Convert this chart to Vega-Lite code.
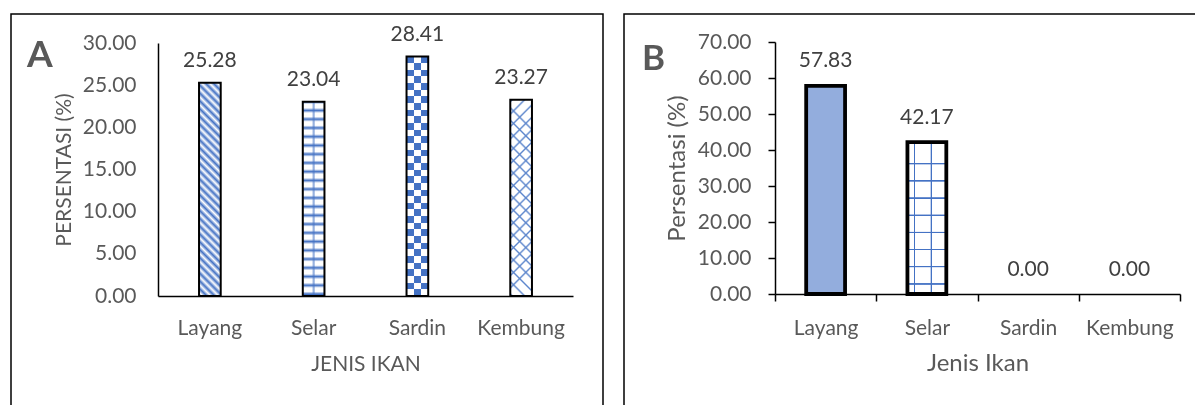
{
  "$schema": "https://vega.github.io/schema/vega-lite/v6.json",
  "background": "white",
  "padding": {"left": 10, "top": 13, "right": 0, "bottom": 0},
  "spacing": 19,
  "datasets": {
    "a": [
      {"fish": "Layang", "value": 25.28},
      {"fish": "Selar", "value": 23.04},
      {"fish": "Sardin", "value": 28.41},
      {"fish": "Kembung", "value": 23.27}
    ],
    "b": [
      {"fish": "Layang", "value": 57.83},
      {"fish": "Selar", "value": 42.17},
      {"fish": "Sardin", "value": 0},
      {"fish": "Kembung", "value": 0}
    ]
  },
  "config": {
    "view": {"stroke": "#000", "strokeWidth": 1.5},
    "font": "Lato",
    "axis": {"labelFont": "Lato", "titleFont": "Lato", "labelColor": "#595959", "titleColor": "#595959", "titleFontWeight": "normal", "domainColor": "#000", "tickColor": "#000", "grid": false},
    "title": {"font": "Lato"}
  },
  "hconcat": [
    {
      "width": 592,
      "height": 400,
      "data": {"name": "a"},
      "title": {"text": "A", "anchor": "start", "frame": "group", "fontSize": 37, "fontWeight": "bold", "color": "#595959", "baseline": "alphabetic", "offset": -90, "dx": 16},
      "encoding": {
        "x": {"field": "fish", "type": "nominal", "sort": null,
          "scale": {"domain": ["Layang", "Selar", "Sardin", "Kembung"], "range": [147, 562], "paddingInner": 0, "paddingOuter": 0},
          "axis": {"title": "JENIS IKAN", "orient": "bottom", "offset": -118, "labelAngle": 0, "ticks": false, "tickSize": 0, "domainWidth": 1.5, "labelPadding": 21, "labelFontSize": 21, "titleFontSize": 21, "titlePadding": 15}},
        "y": {"field": "value", "type": "quantitative",
          "scale": {"domain": [0, 30], "range": [282, 29], "nice": false, "zero": true},
          "axis": {"title": "PERSENTASI (%)", "values": [0, 5, 10, 15, 20, 25, 30], "format": ".2f", "offset": -147, "ticks": false, "tickSize": 0, "domainWidth": 1.5, "labelPadding": 22, "labelFontSize": 21, "titleFontSize": 21, "titlePadding": 8}}
      },
      "layer": [
        {
          "mark": {"type": "bar", "width": {"band": 0.209}},
          "encoding": {
            "fill": {
              "condition": [
                {"test": "datum.fish === 'Layang'", "value": {"gradient": "linear", "x1": 0, "y1": 1, "x2": 0.111, "y2": -0.091, "stops": [
                  {"offset": 0, "color": "#4472c4"}, {"offset": 0.0167, "color": "#fff"}, {"offset": 0.0333, "color": "#4472c4"}, {"offset": 0.05, "color": "#fff"}, {"offset": 0.0667, "color": "#4472c4"}, {"offset": 0.0833, "color": "#fff"}, {"offset": 0.1, "color": "#4472c4"}, {"offset": 0.1167, "color": "#fff"}, {"offset": 0.1333, "color": "#4472c4"}, {"offset": 0.15, "color": "#fff"}, {"offset": 0.1667, "color": "#4472c4"}, {"offset": 0.1833, "color": "#fff"}, {"offset": 0.2, "color": "#4472c4"}, {"offset": 0.2167, "color": "#fff"}, {"offset": 0.2333, "color": "#4472c4"}, {"offset": 0.25, "color": "#fff"}, {"offset": 0.2667, "color": "#4472c4"}, {"offset": 0.2833, "color": "#fff"}, {"offset": 0.3, "color": "#4472c4"}, {"offset": 0.3167, "color": "#fff"}, {"offset": 0.3333, "color": "#4472c4"}, {"offset": 0.35, "color": "#fff"}, {"offset": 0.3667, "color": "#4472c4"}, {"offset": 0.3833, "color": "#fff"}, {"offset": 0.4, "color": "#4472c4"}, {"offset": 0.4167, "color": "#fff"}, {"offset": 0.4333, "color": "#4472c4"}, {"offset": 0.45, "color": "#fff"}, {"offset": 0.4667, "color": "#4472c4"}, {"offset": 0.4833, "color": "#fff"}, {"offset": 0.5, "color": "#4472c4"}, {"offset": 0.5167, "color": "#fff"}, {"offset": 0.5333, "color": "#4472c4"}, {"offset": 0.55, "color": "#fff"}, {"offset": 0.5667, "color": "#4472c4"}, {"offset": 0.5833, "color": "#fff"}, {"offset": 0.6, "color": "#4472c4"}, {"offset": 0.6167, "color": "#fff"}, {"offset": 0.6333, "color": "#4472c4"}, {"offset": 0.65, "color": "#fff"}, {"offset": 0.6667, "color": "#4472c4"}, {"offset": 0.6833, "color": "#fff"}, {"offset": 0.7, "color": "#4472c4"}, {"offset": 0.7167, "color": "#fff"}, {"offset": 0.7333, "color": "#4472c4"}, {"offset": 0.75, "color": "#fff"}, {"offset": 0.7667, "color": "#4472c4"}, {"offset": 0.7833, "color": "#fff"}, {"offset": 0.8, "color": "#4472c4"}, {"offset": 0.8167, "color": "#fff"}, {"offset": 0.8333, "color": "#4472c4"}, {"offset": 0.85, "color": "#fff"}, {"offset": 0.8667, "color": "#4472c4"}, {"offset": 0.8833, "color": "#fff"}, {"offset": 0.9, "color": "#4472c4"}, {"offset": 0.9167, "color": "#fff"}, {"offset": 0.9333, "color": "#4472c4"}, {"offset": 0.95, "color": "#fff"}, {"offset": 0.9667, "color": "#4472c4"}, {"offset": 0.9833, "color": "#fff"}, {"offset": 1, "color": "#4472c4"}
                ]}},
                {"test": "datum.fish === 'Selar'", "value": {"gradient": "linear", "x1": 0, "y1": 0, "x2": 0, "y2": 1, "stops": [
                  {"offset": 0, "color": "#4472c4"}, {"offset": 0.013, "color": "#fff"}, {"offset": 0.032, "color": "#fff"},
                  {"offset": 0.045, "color": "#4472c4"}, {"offset": 0.058, "color": "#fff"}, {"offset": 0.077, "color": "#fff"},
                  {"offset": 0.09, "color": "#4472c4"}, {"offset": 0.103, "color": "#fff"}, {"offset": 0.122, "color": "#fff"},
                  {"offset": 0.135, "color": "#4472c4"}, {"offset": 0.148, "color": "#fff"}, {"offset": 0.167, "color": "#fff"},
                  {"offset": 0.18, "color": "#4472c4"}, {"offset": 0.193, "color": "#fff"}, {"offset": 0.212, "color": "#fff"},
                  {"offset": 0.225, "color": "#4472c4"}, {"offset": 0.238, "color": "#fff"}, {"offset": 0.257, "color": "#fff"},
                  {"offset": 0.27, "color": "#4472c4"}, {"offset": 0.283, "color": "#fff"}, {"offset": 0.302, "color": "#fff"},
                  {"offset": 0.315, "color": "#4472c4"}, {"offset": 0.328, "color": "#fff"}, {"offset": 0.347, "color": "#fff"},
                  {"offset": 0.36, "color": "#4472c4"}, {"offset": 0.373, "color": "#fff"}, {"offset": 0.392, "color": "#fff"},
                  {"offset": 0.405, "color": "#4472c4"}, {"offset": 0.418, "color": "#fff"}, {"offset": 0.437, "color": "#fff"},
                  {"offset": 0.45, "color": "#4472c4"}, {"offset": 0.463, "color": "#fff"}, {"offset": 0.482, "color": "#fff"},
                  {"offset": 0.495, "color": "#4472c4"}, {"offset": 0.508, "color": "#fff"}, {"offset": 0.527, "color": "#fff"},
                  {"offset": 0.54, "color": "#4472c4"}, {"offset": 0.553, "color": "#fff"}, {"offset": 0.572, "color": "#fff"},
                  {"offset": 0.585, "color": "#4472c4"}, {"offset": 0.598, "color": "#fff"}, {"offset": 0.617, "color": "#fff"},
                  {"offset": 0.63, "color": "#4472c4"}, {"offset": 0.643, "color": "#fff"}, {"offset": 0.662, "color": "#fff"},
                  {"offset": 0.675, "color": "#4472c4"}, {"offset": 0.688, "color": "#fff"}, {"offset": 0.707, "color": "#fff"},
                  {"offset": 0.72, "color": "#4472c4"}, {"offset": 0.733, "color": "#fff"}, {"offset": 0.752, "color": "#fff"},
                  {"offset": 0.765, "color": "#4472c4"}, {"offset": 0.778, "color": "#fff"}, {"offset": 0.797, "color": "#fff"},
                  {"offset": 0.81, "color": "#4472c4"}, {"offset": 0.823, "color": "#fff"}, {"offset": 0.842, "color": "#fff"},
                  {"offset": 0.855, "color": "#4472c4"}, {"offset": 0.868, "color": "#fff"}, {"offset": 0.887, "color": "#fff"},
                  {"offset": 0.9, "color": "#4472c4"}, {"offset": 0.913, "color": "#fff"}, {"offset": 0.932, "color": "#fff"},
                  {"offset": 0.945, "color": "#4472c4"}, {"offset": 0.958, "color": "#fff"}, {"offset": 0.977, "color": "#fff"},
                  {"offset": 0.99, "color": "#4472c4"}
                ]}},
                {"test": "datum.fish === 'Sardin'", "value": {"gradient": "linear", "x1": 0, "y1": 0, "x2": 0, "y2": 1, "stops": [
                  {"offset": 0, "color": "#000"}, {"offset": 0.0278, "color": "#000"}, {"offset": 0.0278, "color": "#fff"}, {"offset": 0.0556, "color": "#fff"},
                  {"offset": 0.0556, "color": "#000"}, {"offset": 0.0833, "color": "#000"}, {"offset": 0.0833, "color": "#fff"}, {"offset": 0.1111, "color": "#fff"},
                  {"offset": 0.1111, "color": "#000"}, {"offset": 0.1389, "color": "#000"}, {"offset": 0.1389, "color": "#fff"}, {"offset": 0.1667, "color": "#fff"},
                  {"offset": 0.1667, "color": "#000"}, {"offset": 0.1944, "color": "#000"}, {"offset": 0.1944, "color": "#fff"}, {"offset": 0.2222, "color": "#fff"},
                  {"offset": 0.2222, "color": "#000"}, {"offset": 0.25, "color": "#000"}, {"offset": 0.25, "color": "#fff"}, {"offset": 0.2778, "color": "#fff"},
                  {"offset": 0.2778, "color": "#000"}, {"offset": 0.3056, "color": "#000"}, {"offset": 0.3056, "color": "#fff"}, {"offset": 0.3333, "color": "#fff"},
                  {"offset": 0.3333, "color": "#000"}, {"offset": 0.3611, "color": "#000"}, {"offset": 0.3611, "color": "#fff"}, {"offset": 0.3889, "color": "#fff"},
                  {"offset": 0.3889, "color": "#000"}, {"offset": 0.4167, "color": "#000"}, {"offset": 0.4167, "color": "#fff"}, {"offset": 0.4444, "color": "#fff"},
                  {"offset": 0.4444, "color": "#000"}, {"offset": 0.4722, "color": "#000"}, {"offset": 0.4722, "color": "#fff"}, {"offset": 0.5, "color": "#fff"},
                  {"offset": 0.5, "color": "#000"}, {"offset": 0.5278, "color": "#000"}, {"offset": 0.5278, "color": "#fff"}, {"offset": 0.5556, "color": "#fff"},
                  {"offset": 0.5556, "color": "#000"}, {"offset": 0.5833, "color": "#000"}, {"offset": 0.5833, "color": "#fff"}, {"offset": 0.6111, "color": "#fff"},
                  {"offset": 0.6111, "color": "#000"}, {"offset": 0.6389, "color": "#000"}, {"offset": 0.6389, "color": "#fff"}, {"offset": 0.6667, "color": "#fff"},
                  {"offset": 0.6667, "color": "#000"}, {"offset": 0.6944, "color": "#000"}, {"offset": 0.6944, "color": "#fff"}, {"offset": 0.7222, "color": "#fff"},
                  {"offset": 0.7222, "color": "#000"}, {"offset": 0.75, "color": "#000"}, {"offset": 0.75, "color": "#fff"}, {"offset": 0.7778, "color": "#fff"},
                  {"offset": 0.7778, "color": "#000"}, {"offset": 0.8056, "color": "#000"}, {"offset": 0.8056, "color": "#fff"}, {"offset": 0.8333, "color": "#fff"},
                  {"offset": 0.8333, "color": "#000"}, {"offset": 0.8611, "color": "#000"}, {"offset": 0.8611, "color": "#fff"}, {"offset": 0.8889, "color": "#fff"},
                  {"offset": 0.8889, "color": "#000"}, {"offset": 0.9167, "color": "#000"}, {"offset": 0.9167, "color": "#fff"}, {"offset": 0.9444, "color": "#fff"},
                  {"offset": 0.9444, "color": "#000"}, {"offset": 0.9722, "color": "#000"}, {"offset": 0.9722, "color": "#fff"}, {"offset": 1, "color": "#fff"}
                ]}},
                {"test": "datum.fish === 'Kembung'", "value": {"gradient": "linear", "x1": 0, "y1": 1, "x2": 0.111, "y2": 0, "stops": [
                  {"offset": 0, "color": "#fff"}, {"offset": 0.01, "color": "#5b85cc"}, {"offset": 0.02, "color": "#fff"},
                  {"offset": 0.0625, "color": "#fff"}, {"offset": 0.0725, "color": "#5b85cc"}, {"offset": 0.0825, "color": "#fff"},
                  {"offset": 0.125, "color": "#fff"}, {"offset": 0.135, "color": "#5b85cc"}, {"offset": 0.145, "color": "#fff"},
                  {"offset": 0.1875, "color": "#fff"}, {"offset": 0.1975, "color": "#5b85cc"}, {"offset": 0.2075, "color": "#fff"},
                  {"offset": 0.25, "color": "#fff"}, {"offset": 0.26, "color": "#5b85cc"}, {"offset": 0.27, "color": "#fff"},
                  {"offset": 0.3125, "color": "#fff"}, {"offset": 0.3225, "color": "#5b85cc"}, {"offset": 0.3325, "color": "#fff"},
                  {"offset": 0.375, "color": "#fff"}, {"offset": 0.385, "color": "#5b85cc"}, {"offset": 0.395, "color": "#fff"},
                  {"offset": 0.4375, "color": "#fff"}, {"offset": 0.4475, "color": "#5b85cc"}, {"offset": 0.4575, "color": "#fff"},
                  {"offset": 0.5, "color": "#fff"}, {"offset": 0.51, "color": "#5b85cc"}, {"offset": 0.52, "color": "#fff"},
                  {"offset": 0.5625, "color": "#fff"}, {"offset": 0.5725, "color": "#5b85cc"}, {"offset": 0.5825, "color": "#fff"},
                  {"offset": 0.625, "color": "#fff"}, {"offset": 0.635, "color": "#5b85cc"}, {"offset": 0.645, "color": "#fff"},
                  {"offset": 0.6875, "color": "#fff"}, {"offset": 0.6975, "color": "#5b85cc"}, {"offset": 0.7075, "color": "#fff"},
                  {"offset": 0.75, "color": "#fff"}, {"offset": 0.76, "color": "#5b85cc"}, {"offset": 0.77, "color": "#fff"},
                  {"offset": 0.8125, "color": "#fff"}, {"offset": 0.8225, "color": "#5b85cc"}, {"offset": 0.8325, "color": "#fff"},
                  {"offset": 0.875, "color": "#fff"}, {"offset": 0.885, "color": "#5b85cc"}, {"offset": 0.895, "color": "#fff"},
                  {"offset": 0.9375, "color": "#fff"}, {"offset": 0.9475, "color": "#5b85cc"}, {"offset": 0.9575, "color": "#fff"},
                  {"offset": 1, "color": "#fff"}
                ]}}
              ],
              "value": "#fff"
            }
          }
        },
        {
          "transform": [{"filter": "datum.fish === 'Selar'"}],
          "mark": {"type": "bar", "width": {"band": 0.209},
            "fill": {"gradient": "linear", "x1": 0, "y1": 0, "x2": 1, "y2": 0, "stops": [
              {"offset": 0, "color": "rgba(68,114,196,0)"}, {"offset": 0.43, "color": "rgba(68,114,196,0)"}, {"offset": 0.47, "color": "rgba(68,114,196,0.55)"},
              {"offset": 0.53, "color": "rgba(68,114,196,0.55)"}, {"offset": 0.57, "color": "rgba(68,114,196,0)"}, {"offset": 1, "color": "rgba(68,114,196,0)"}
            ]}}
        },
        {
          "transform": [{"filter": "datum.fish === 'Sardin'"}],
          "mark": {"type": "bar", "width": {"band": 0.209}, "blend": "difference",
            "fill": {"gradient": "linear", "x1": 0, "y1": 0, "x2": 1, "y2": 0, "stops": [
              {"offset": 0, "color": "#000"}, {"offset": 0.333, "color": "#000"}, {"offset": 0.333, "color": "#fff"},
              {"offset": 0.667, "color": "#fff"}, {"offset": 0.667, "color": "#000"}, {"offset": 1, "color": "#000"}
            ]}}
        },
        {
          "transform": [{"filter": "datum.fish === 'Sardin'"}],
          "mark": {"type": "bar", "width": {"band": 0.209}, "blend": "screen", "fill": "#4472c4"}
        },
        {
          "transform": [{"filter": "datum.fish === 'Kembung'"}],
          "mark": {"type": "bar", "width": {"band": 0.209},
            "fill": {"gradient": "linear", "x1": 0, "y1": 0, "x2": 0.111, "y2": 1, "stops": [
              {"offset": 0, "color": "rgba(91,133,204,0)"}, {"offset": 0.01, "color": "#5b85cc"}, {"offset": 0.02, "color": "rgba(91,133,204,0)"},
              {"offset": 0.0625, "color": "rgba(91,133,204,0)"}, {"offset": 0.0725, "color": "#5b85cc"}, {"offset": 0.0825, "color": "rgba(91,133,204,0)"},
              {"offset": 0.125, "color": "rgba(91,133,204,0)"}, {"offset": 0.135, "color": "#5b85cc"}, {"offset": 0.145, "color": "rgba(91,133,204,0)"},
              {"offset": 0.1875, "color": "rgba(91,133,204,0)"}, {"offset": 0.1975, "color": "#5b85cc"}, {"offset": 0.2075, "color": "rgba(91,133,204,0)"},
              {"offset": 0.25, "color": "rgba(91,133,204,0)"}, {"offset": 0.26, "color": "#5b85cc"}, {"offset": 0.27, "color": "rgba(91,133,204,0)"},
              {"offset": 0.3125, "color": "rgba(91,133,204,0)"}, {"offset": 0.3225, "color": "#5b85cc"}, {"offset": 0.3325, "color": "rgba(91,133,204,0)"},
              {"offset": 0.375, "color": "rgba(91,133,204,0)"}, {"offset": 0.385, "color": "#5b85cc"}, {"offset": 0.395, "color": "rgba(91,133,204,0)"},
              {"offset": 0.4375, "color": "rgba(91,133,204,0)"}, {"offset": 0.4475, "color": "#5b85cc"}, {"offset": 0.4575, "color": "rgba(91,133,204,0)"},
              {"offset": 0.5, "color": "rgba(91,133,204,0)"}, {"offset": 0.51, "color": "#5b85cc"}, {"offset": 0.52, "color": "rgba(91,133,204,0)"},
              {"offset": 0.5625, "color": "rgba(91,133,204,0)"}, {"offset": 0.5725, "color": "#5b85cc"}, {"offset": 0.5825, "color": "rgba(91,133,204,0)"},
              {"offset": 0.625, "color": "rgba(91,133,204,0)"}, {"offset": 0.635, "color": "#5b85cc"}, {"offset": 0.645, "color": "rgba(91,133,204,0)"},
              {"offset": 0.6875, "color": "rgba(91,133,204,0)"}, {"offset": 0.6975, "color": "#5b85cc"}, {"offset": 0.7075, "color": "rgba(91,133,204,0)"},
              {"offset": 0.75, "color": "rgba(91,133,204,0)"}, {"offset": 0.76, "color": "#5b85cc"}, {"offset": 0.77, "color": "rgba(91,133,204,0)"},
              {"offset": 0.8125, "color": "rgba(91,133,204,0)"}, {"offset": 0.8225, "color": "#5b85cc"}, {"offset": 0.8325, "color": "rgba(91,133,204,0)"},
              {"offset": 0.875, "color": "rgba(91,133,204,0)"}, {"offset": 0.885, "color": "#5b85cc"}, {"offset": 0.895, "color": "rgba(91,133,204,0)"},
              {"offset": 0.9375, "color": "rgba(91,133,204,0)"}, {"offset": 0.9475, "color": "#5b85cc"}, {"offset": 0.9575, "color": "rgba(91,133,204,0)"},
              {"offset": 1, "color": "rgba(91,133,204,0)"}
            ]}}
        },
        {
          "mark": {"type": "bar", "width": {"band": 0.209}, "filled": false, "stroke": "#000", "strokeWidth": 2}
        },
        {
          "mark": {"type": "text", "baseline": "alphabetic", "dy": -15.6, "fontSize": 21, "font": "Lato", "color": "#404040"},
          "encoding": {"text": {"field": "value", "type": "quantitative", "format": ".2f"}}
        }
      ]
    },
    {
      "width": 600,
      "height": 400,
      "data": {"name": "b"},
      "title": {"text": "B", "anchor": "start", "frame": "group", "fontSize": 35, "fontWeight": "bold", "color": "#595959", "baseline": "alphabetic", "offset": -91, "dx": 18},
      "encoding": {
        "x": {"field": "fish", "type": "nominal", "sort": null,
          "scale": {"domain": ["Layang", "Selar", "Sardin", "Kembung"], "range": [151, 556], "paddingInner": 0, "paddingOuter": 0},
          "axis": {"title": "Jenis Ikan", "orient": "bottom", "offset": -120, "labelAngle": 0, "ticks": true, "tickBand": "extent", "tickSize": 7, "tickWidth": 1.5, "domainWidth": 1.5, "labelPadding": 16, "labelFontSize": 21, "titleFontSize": 24, "titlePadding": 13}},
        "y": {"field": "value", "type": "quantitative",
          "scale": {"domain": [0, 70], "range": [280, 28], "nice": false, "zero": true},
          "axis": {"title": "Persentasi (%)", "values": [0, 10, 20, 30, 40, 50, 60, 70], "format": ".2f", "offset": -151, "ticks": true, "tickSize": 7, "tickWidth": 1.5, "domainWidth": 1.5, "labelPadding": 17, "labelFontSize": 21, "titleFontSize": 24, "titlePadding": 8}}
      },
      "layer": [
        {
          "mark": {"type": "bar", "width": {"band": 0.384}},
          "encoding": {
            "fill": {
              "condition": [
                {"test": "datum.fish === 'Layang'", "value": "#93addd"},
                {"test": "datum.fish === 'Selar'", "value": {"gradient": "linear", "x1": 0, "y1": 0, "x2": 0, "y2": 1, "stops": [
                  {"offset": 0, "color": "#fff"},
                  {"offset": 0.136, "color": "#fff"}, {"offset": 0.139, "color": "#4472c4"}, {"offset": 0.145, "color": "#4472c4"}, {"offset": 0.148, "color": "#fff"},
                  {"offset": 0.249, "color": "#fff"}, {"offset": 0.252, "color": "#4472c4"}, {"offset": 0.258, "color": "#4472c4"}, {"offset": 0.261, "color": "#fff"},
                  {"offset": 0.362, "color": "#fff"}, {"offset": 0.365, "color": "#4472c4"}, {"offset": 0.371, "color": "#4472c4"}, {"offset": 0.374, "color": "#fff"},
                  {"offset": 0.475, "color": "#fff"}, {"offset": 0.478, "color": "#4472c4"}, {"offset": 0.484, "color": "#4472c4"}, {"offset": 0.487, "color": "#fff"},
                  {"offset": 0.588, "color": "#fff"}, {"offset": 0.591, "color": "#4472c4"}, {"offset": 0.597, "color": "#4472c4"}, {"offset": 0.6, "color": "#fff"},
                  {"offset": 0.701, "color": "#fff"}, {"offset": 0.704, "color": "#4472c4"}, {"offset": 0.71, "color": "#4472c4"}, {"offset": 0.713, "color": "#fff"},
                  {"offset": 0.814, "color": "#fff"}, {"offset": 0.817, "color": "#4472c4"}, {"offset": 0.823, "color": "#4472c4"}, {"offset": 0.826, "color": "#fff"},
                  {"offset": 0.928, "color": "#fff"}, {"offset": 0.931, "color": "#4472c4"}, {"offset": 0.937, "color": "#4472c4"}, {"offset": 0.94, "color": "#fff"},
                  {"offset": 1, "color": "#fff"}
                ]}}
              ],
              "value": "#fff"
            }
          }
        },
        {
          "transform": [{"filter": "datum.fish === 'Selar'"}],
          "mark": {"type": "bar", "width": {"band": 0.384},
            "fill": {"gradient": "linear", "x1": 0, "y1": 0, "x2": 1, "y2": 0, "stops": [
              {"offset": 0, "color": "rgba(68,114,196,0)"}, {"offset": 0.165, "color": "rgba(68,114,196,0)"}, {"offset": 0.175, "color": "#4472c4"},
              {"offset": 0.195, "color": "#4472c4"}, {"offset": 0.205, "color": "rgba(68,114,196,0)"}, {"offset": 0.59, "color": "rgba(68,114,196,0)"},
              {"offset": 0.6, "color": "#4472c4"}, {"offset": 0.62, "color": "#4472c4"}, {"offset": 0.63, "color": "rgba(68,114,196,0)"},
              {"offset": 1, "color": "rgba(68,114,196,0)"}
            ]}}
        },
        {
          "transform": [{"filter": "datum.value > 0"}],
          "mark": {"type": "bar", "width": {"band": 0.384}, "filled": false, "stroke": "#000", "strokeWidth": 3.8}
        },
        {
          "mark": {"type": "text", "baseline": "alphabetic", "dy": -18.5, "fontSize": 21, "font": "Lato", "color": "#404040"},
          "encoding": {"text": {"field": "value", "type": "quantitative", "format": ".2f"}}
        }
      ]
    }
  ]
}
